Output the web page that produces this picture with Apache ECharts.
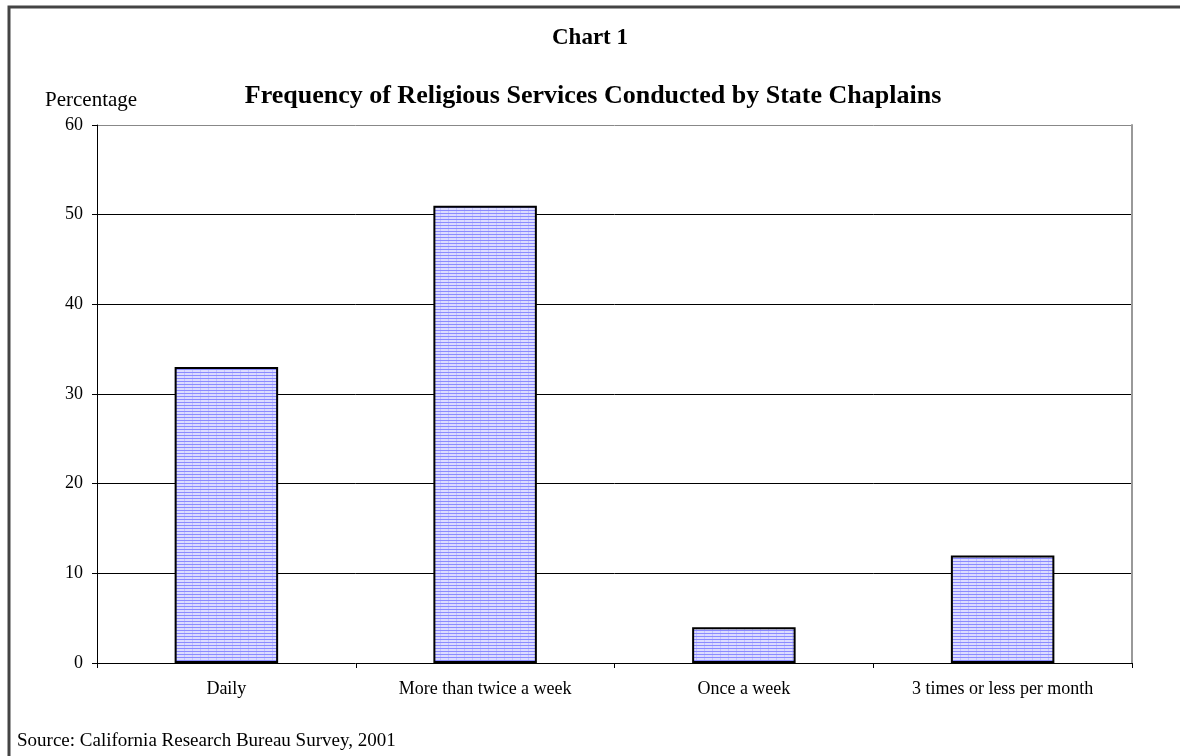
<!DOCTYPE html>
<html>
<head>
<meta charset="utf-8">
<script src="https://cdn.jsdelivr.net/npm/echarts@6/dist/echarts.min.js"></script>
<style>
  html, body { margin: 0; padding: 0; background: #fff; }
  #chart { width: 1180px; height: 756px; }
</style>
</head>
<body>
<div id="chart"></div>
<script>
// Chart 1 - religious services by state chaplains
var categories = ['Daily', 'More than twice a week', 'Once a week', '3 times or less per month'];
var percentages = [33, 51, 4, 12];
var yTicks = [0, 10, 20, 30, 40, 50, 60];

var serif = '"Liberation Serif", "DejaVu Serif", serif';

// hatched blue fill, like the old spreadsheet pattern
function makePattern() {
  var c = document.createElement('canvas');
  c.width = 8; c.height = 3;
  var ctx = c.getContext('2d');
  ctx.fillStyle = '#dcdcff';
  ctx.fillRect(0, 0, 8, 3);
  ctx.fillStyle = '#c2c2ff';
  ctx.fillRect(0, 0, 1, 3);
  ctx.fillStyle = '#8a8aff';
  ctx.fillRect(0, 0, 8, 1);
  return c;
}

var chart = echarts.init(document.getElementById('chart'));
chart.setOption({
  animation: false,
  backgroundColor: '#fff',
  title: [
    { text: 'Chart 1', left: 585, textAlign: 'center', top: 22,
      textStyle: { fontFamily: serif, fontSize: 23, fontWeight: 'bold', color: '#000' } },
    { text: 'Frequency of Religious Services Conducted by State Chaplains', left: 588, textAlign: 'center', top: 78,
      textStyle: { fontFamily: serif, fontSize: 26, fontWeight: 'bold', color: '#000' } },
    { text: 'Percentage', left: 40, top: 85,
      textStyle: { fontFamily: serif, fontSize: 21, fontWeight: 'normal', color: '#000' } },
    { text: 'Source: California Research Bureau Survey, 2001', left: 12, top: 727,
      textStyle: { fontFamily: serif, fontSize: 19, fontWeight: 'normal', color: '#000' } }
  ],
  graphic: [
    { type: 'rect', shape: { x: 9, y: 7, width: 1200, height: 800 },
      style: { fill: 'none', stroke: '#444', lineWidth: 3 }, silent: true }
  ],
  grid: { left: 97, right: 48, top: 125, bottom: 93 },
  xAxis: {
    type: 'category',
    data: categories,
    axisLine: { lineStyle: { color: '#000', width: 1 } },
    axisTick: { show: true, length: 5, lineStyle: { color: '#000' } },
    axisLabel: { fontFamily: serif, fontSize: 18, color: '#000', margin: 17 }
  },
  yAxis: [{
    type: 'value',
    min: 0, max: 60, interval: 10,
    axisLine: { show: true, lineStyle: { color: '#000', width: 1 } },
    axisTick: { show: true, length: 5, lineStyle: { color: '#000' } },
    axisLabel: { fontFamily: serif, fontSize: 18, color: '#000', margin: 14 },
    splitLine: { show: true, lineStyle: { color: ['#fff', '#000', '#000', '#000', '#000', '#000', '#888'], width: 1 } }
  }, {
    type: 'value',
    position: 'right',
    min: 0, max: 60, interval: 10,
    axisLine: { show: true, lineStyle: { color: '#999', width: 2 } },
    axisTick: { show: false },
    axisLabel: { show: false },
    splitLine: { show: false }
  }],
  series: [{
    type: 'bar',
    data: percentages,
    barWidth: '40%',
    itemStyle: {
      color: { image: makePattern(), repeat: 'repeat' },
      borderColor: '#000',
      borderWidth: 2
    }
  }]
});
</script>
</body>
</html>
